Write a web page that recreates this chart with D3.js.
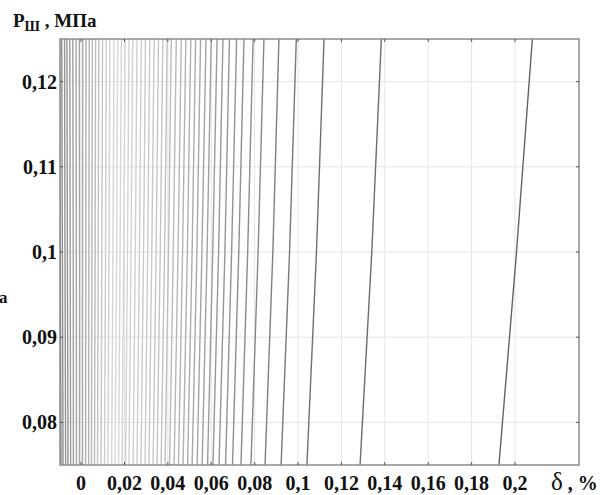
<!DOCTYPE html>
<html>
<head>
<meta charset="utf-8">
<script src="https://cdn.jsdelivr.net/npm/d3@7"></script>
<style>
  body { margin: 0; background: #fff; }
  svg { display: block; }
  text { font-family: "Liberation Serif", "Times New Roman", serif; font-weight: bold; fill: #111; }
</style>
</head>
<body>
<div id="main"></div>
<script>
const pLevels = [0.075, 0.1, 0.125];

// delta (%) of every contour line at P = 0.075, 0.1, 0.125
const deltaAtP075 = [-0.0092, -0.0083, -0.0071, -0.0060, -0.0048, -0.0035, -0.0021, -0.0007,
  0.0007, 0.0021, 0.0035, 0.0048, 0.0062, 0.0076, 0.0092, 0.0108, 0.0124, 0.0141, 0.0157,
  0.0173, 0.0189, 0.0205, 0.0221, 0.0240, 0.0258, 0.0276, 0.0295, 0.0313, 0.0332, 0.0350,
  0.0369, 0.0387, 0.0408, 0.0429, 0.0449, 0.0470, 0.0491, 0.0512, 0.0535, 0.0558, 0.0583,
  0.0608, 0.0636, 0.0666, 0.0698, 0.0737, 0.0783, 0.0848, 0.0922, 0.1041, 0.1286, 0.1926];
const deltaAtP100 = [-0.0096, -0.0086, -0.0074, -0.0063, -0.0050, -0.0036, -0.0022, -0.0007,
  0.0007, 0.0022, 0.0036, 0.0050, 0.0065, 0.0079, 0.0096, 0.0113, 0.0129, 0.0147, 0.0164,
  0.0180, 0.0197, 0.0214, 0.0230, 0.0250, 0.0269, 0.0288, 0.0307, 0.0326, 0.0346, 0.0365,
  0.0385, 0.0403, 0.0425, 0.0447, 0.0468, 0.0490, 0.0512, 0.0534, 0.0557, 0.0581, 0.0607,
  0.0634, 0.0663, 0.0694, 0.0727, 0.0768, 0.0816, 0.0884, 0.0961, 0.1085, 0.1340, 0.2007];
const deltaAtP125 = [-0.0099, -0.0089, -0.0076, -0.0065, -0.0052, -0.0038, -0.0023, -0.0008,
  0.0008, 0.0023, 0.0038, 0.0052, 0.0067, 0.0082, 0.0099, 0.0116, 0.0133, 0.0152, 0.0169,
  0.0186, 0.0203, 0.0221, 0.0238, 0.0258, 0.0278, 0.0297, 0.0317, 0.0337, 0.0357, 0.0377,
  0.0397, 0.0416, 0.0439, 0.0462, 0.0483, 0.0506, 0.0528, 0.0551, 0.0576, 0.0600, 0.0627,
  0.0654, 0.0684, 0.0717, 0.0751, 0.0793, 0.0843, 0.0912, 0.0992, 0.1120, 0.1384, 0.2080];

const xTicks = [0, 0.02, 0.04, 0.06, 0.08, 0.1, 0.12, 0.14, 0.16, 0.18, 0.2];
const xTickLabels = ["0", "0,02", "0,04", "0,06", "0,08", "0,1", "0,12", "0,14", "0,16", "0,18", "0,2"];
const yTicks = [0.08, 0.09, 0.1, 0.11, 0.12];
const yTickLabels = ["0,08", "0,09", "0,1", "0,11", "0,12"];

const width = 606;
const height = 495;
const plot = { left: 60, right: 579, top: 39, bottom: 465 };

const x = d3.scaleLinear().domain([-0.0097, 0.2295]).range([plot.left, plot.right]);
const y = d3.scaleLinear().domain([0.075, 0.125]).range([plot.bottom, plot.top]);

// grey shade of each contour by its delta
const shade = d3.scaleLinear()
  .domain([-0.01, 0.0, 0.015, 0.035, 0.06, 0.1, 0.2])
  .range(["#8a8a8a", "#a8a8a8", "#d8d8d8", "#c4c4c4", "#999", "#707070", "#626262"]);

const svg = d3.select("#main").append("svg")
  .attr("width", width)
  .attr("height", height);

svg.append("clipPath").attr("id", "clip")
  .append("rect")
  .attr("x", plot.left).attr("y", plot.top)
  .attr("width", plot.right - plot.left).attr("height", plot.bottom - plot.top);

// grid
svg.append("g")
  .selectAll("line")
  .data(xTicks)
  .join("line")
  .attr("x1", d => x(d)).attr("x2", d => x(d))
  .attr("y1", plot.top).attr("y2", plot.bottom)
  .attr("stroke", "#e4e4e4").attr("stroke-width", 1);

svg.append("g")
  .selectAll("line")
  .data(yTicks)
  .join("line")
  .attr("x1", plot.left).attr("x2", plot.right)
  .attr("y1", d => y(d)).attr("y2", d => y(d))
  .attr("stroke", "#e4e4e4").attr("stroke-width", 1);

// contour lines
const lines = deltaAtP075.map((d, i) => [
  { p: pLevels[0], delta: deltaAtP075[i] },
  { p: pLevels[1], delta: deltaAtP100[i] },
  { p: pLevels[2], delta: deltaAtP125[i] }
]);

const line = d3.line()
  .x(d => x(d.delta))
  .y(d => y(d.p))
  .curve(d3.curveNatural);

svg.append("g")
  .attr("clip-path", "url(#clip)")
  .selectAll("path")
  .data(lines)
  .join("path")
  .attr("d", line)
  .attr("fill", "none")
  .attr("stroke", d => shade(d[0].delta))
  .attr("stroke-width", 1.4);

// frame
svg.append("rect")
  .attr("x", plot.left).attr("y", plot.top)
  .attr("width", plot.right - plot.left).attr("height", plot.bottom - plot.top)
  .attr("fill", "none")
  .attr("stroke", "#8c8c8c")
  .attr("stroke-width", 1.5);

// small inner tick marks
const tickLen = 3;
const tickG = svg.append("g").attr("stroke", "#555").attr("stroke-width", 1);
xTicks.forEach(t => {
  tickG.append("line").attr("x1", x(t)).attr("x2", x(t)).attr("y1", plot.bottom).attr("y2", plot.bottom - tickLen);
  tickG.append("line").attr("x1", x(t)).attr("x2", x(t)).attr("y1", plot.top).attr("y2", plot.top + tickLen);
});
yTicks.forEach(t => {
  tickG.append("line").attr("x1", plot.left).attr("x2", plot.left + tickLen).attr("y1", y(t)).attr("y2", y(t));
  tickG.append("line").attr("x1", plot.right).attr("x2", plot.right - tickLen).attr("y1", y(t)).attr("y2", y(t));
});

// tick labels
svg.append("g")
  .selectAll("text")
  .data(xTicks)
  .join("text")
  .attr("x", d => x(d))
  .attr("y", 490)
  .attr("text-anchor", "middle")
  .style("font-size", "20px")
  .text((d, i) => xTickLabels[i]);

svg.append("g")
  .selectAll("text")
  .data(yTicks)
  .join("text")
  .attr("x", 57)
  .attr("y", d => y(d) + 7)
  .attr("text-anchor", "end")
  .style("font-size", "20px")
  .text((d, i) => yTickLabels[i]);

// axis titles
const yTitle = svg.append("text").attr("x", 13).attr("y", 27).style("font-size", "19px");
yTitle.append("tspan").text("P");
yTitle.append("tspan").attr("dy", 4).style("font-size", "14px").text("Ш");
yTitle.append("tspan").attr("dy", -4).text(" , МПа");

svg.append("text").attr("x", -1).attr("y", 303).style("font-size", "17px").text("а");

const xTitle = svg.append("text").attr("x", 551).attr("y", 490);
xTitle.append("tspan").style("font-size", "25px").style("font-weight", "normal").text("δ");
xTitle.append("tspan").style("font-size", "20px").text(" , %");
</script>
</body>
</html>
